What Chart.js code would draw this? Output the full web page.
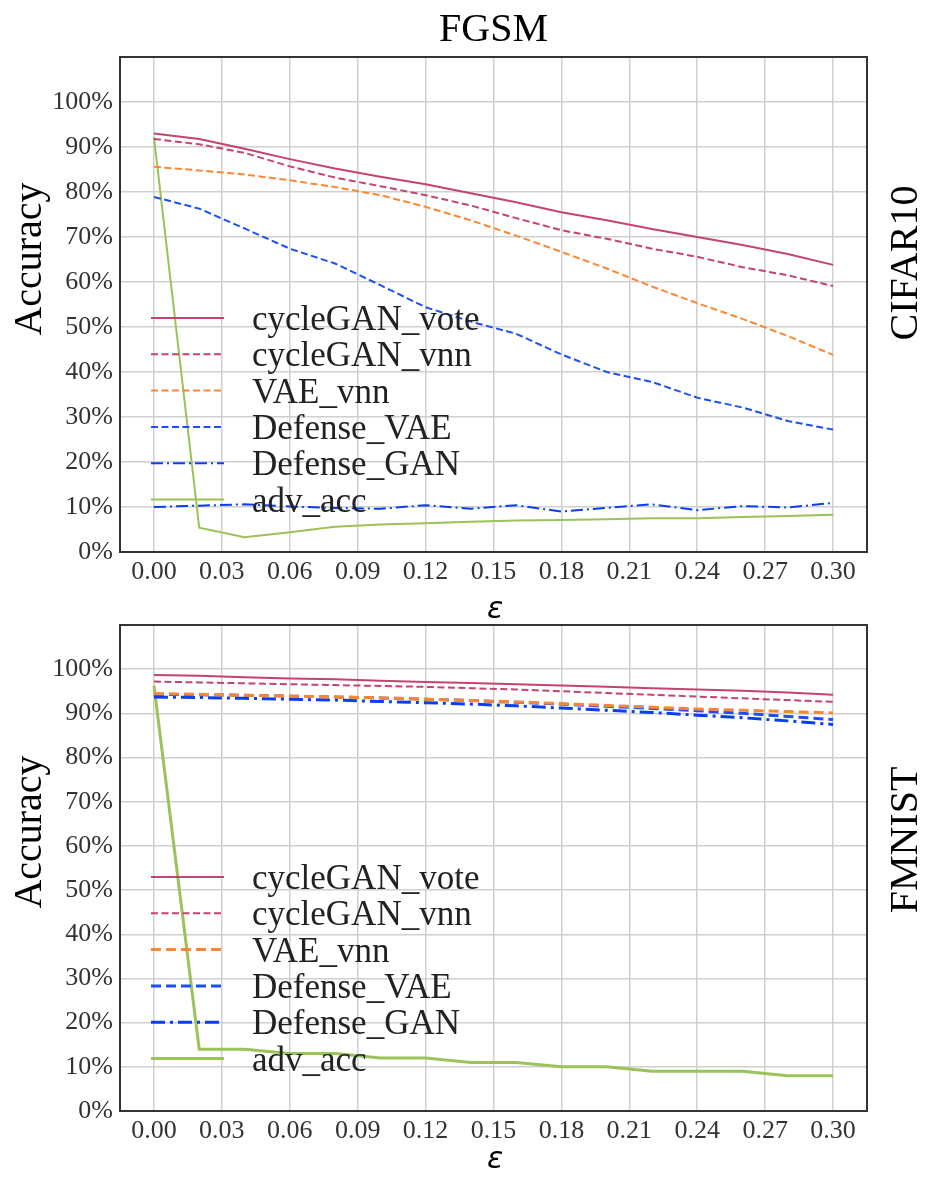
<!DOCTYPE html>
<html>
<head>
<meta charset="utf-8">
<script src="https://cdn.jsdelivr.net/npm/chart.js@4.4.1/dist/chart.umd.min.js"></script>
<style>
  html, body { margin: 0; padding: 0; background: #fff; }
  #wrap { position: relative; width: 926px; height: 1178px; }
  canvas { position: absolute; left: 0; }
  #topChart { top: 0; }
  #bottomChart { top: 589px; }
</style>
</head>
<body>
<div id="wrap">
  <canvas id="topChart" width="926" height="625"></canvas>
  <canvas id="bottomChart" width="926" height="589"></canvas>
</div>
<script>
/* FGSM accuracy vs epsilon, CIFAR10 (top) and FMNIST (bottom) */

const EPS = [0.00, 0.02, 0.04, 0.06, 0.08, 0.10, 0.12, 0.14, 0.16, 0.18, 0.20, 0.22, 0.24, 0.26, 0.28, 0.30];
const X_TICKS = [0.00, 0.03, 0.06, 0.09, 0.12, 0.15, 0.18, 0.21, 0.24, 0.27, 0.30];
const Y_TICKS = [0.0, 0.1, 0.2, 0.3, 0.4, 0.5, 0.6, 0.7, 0.8, 0.9, 1.0];
const SERIES = ['cycleGAN_vote', 'cycleGAN_vnn', 'VAE_vnn', 'Defense_VAE', 'Defense_GAN', 'adv_acc'];

// CIFAR10
const cifarVote   = [0.930, 0.918, 0.896, 0.873, 0.852, 0.834, 0.817, 0.797, 0.777, 0.755, 0.737, 0.718, 0.700, 0.682, 0.662, 0.638];
const cifarVnn    = [0.918, 0.906, 0.887, 0.857, 0.832, 0.813, 0.793, 0.770, 0.742, 0.715, 0.696, 0.674, 0.656, 0.633, 0.615, 0.591];
const cifarVaeVnn = [0.856, 0.848, 0.839, 0.826, 0.811, 0.793, 0.767, 0.737, 0.703, 0.667, 0.630, 0.590, 0.553, 0.518, 0.480, 0.438];
const cifarDefVae = [0.789, 0.763, 0.719, 0.674, 0.641, 0.593, 0.544, 0.512, 0.485, 0.439, 0.400, 0.378, 0.343, 0.321, 0.291, 0.272];
const cifarDefGan = [0.100, 0.103, 0.106, 0.101, 0.098, 0.096, 0.104, 0.096, 0.104, 0.090, 0.098, 0.106, 0.093, 0.102, 0.099, 0.109];
const cifarAdv    = [0.922, 0.054, 0.033, 0.044, 0.056, 0.061, 0.064, 0.067, 0.070, 0.071, 0.073, 0.075, 0.075, 0.078, 0.080, 0.083];

// FMNIST
const fmnistVote   = [0.987, 0.985, 0.982, 0.979, 0.977, 0.974, 0.971, 0.969, 0.966, 0.963, 0.960, 0.957, 0.954, 0.951, 0.947, 0.942];
const fmnistVnn    = [0.972, 0.970, 0.968, 0.966, 0.964, 0.962, 0.960, 0.957, 0.954, 0.950, 0.946, 0.942, 0.938, 0.934, 0.930, 0.926];
const fmnistVaeVnn = [0.945, 0.943, 0.941, 0.939, 0.937, 0.935, 0.932, 0.929, 0.926, 0.922, 0.918, 0.914, 0.910, 0.907, 0.904, 0.901];
const fmnistDefVae = [0.943, 0.942, 0.941, 0.939, 0.937, 0.935, 0.932, 0.929, 0.925, 0.921, 0.916, 0.911, 0.906, 0.900, 0.893, 0.886];
const fmnistDefGan = [0.937, 0.936, 0.934, 0.932, 0.930, 0.927, 0.924, 0.921, 0.917, 0.912, 0.907, 0.902, 0.896, 0.890, 0.883, 0.875];
const fmnistAdv    = [0.963, 0.140, 0.140, 0.130, 0.130, 0.120, 0.120, 0.110, 0.110, 0.100, 0.100, 0.090, 0.090, 0.090, 0.080, 0.080];

const CRIMSON = '#c4436f';
const ORANGE = '#fb8735';
const BLUE = '#1d4ff5';
const BLUE_DD = '#0b3ef2';
const GREEN = '#9cc25a';

const SERIF = '"Liberation Serif", "DejaVu Serif", serif';

// line style per series: [color, width, dash]
function styles(thick) {
    const w = thick ? 3 : 2;
    return [
        [CRIMSON, 2, []],
        [CRIMSON, 2, [7, 3.5]],
        [ORANGE, w, thick ? [10, 5] : [7, 3.5]],
        [BLUE, w, thick ? [10, 5] : [7, 3.5]],
        [BLUE_DD, w, thick ? [14, 5, 3, 5] : [12, 4, 2, 4]],
        [GREEN, w, []]
    ];
}

function makeDatasets(seriesValues, thick) {
    const st = styles(thick);
    return seriesValues.map((vals, i) => ({
        label: SERIES[i],
        data: vals.map((v, k) => ({ x: EPS[k], y: v })),
        borderColor: st[i][0],
        backgroundColor: st[i][0],
        borderWidth: st[i][1],
        borderDash: st[i][2],
        pointRadius: 0,
        tension: 0,
        fill: false
    }));
}

// frame, in-axes legend and the free text around each panel
const panelDecor = {
    id: 'panelDecor',
    afterDatasetsDraw(chart, args, opts) {
        const ctx = chart.ctx;
        const a = chart.chartArea;
        ctx.save();

        ctx.strokeStyle = '#333';
        ctx.lineWidth = 2;
        ctx.setLineDash([]);
        ctx.strokeRect(a.left, a.top, a.right - a.left, a.bottom - a.top);

        // legend, lower left inside the axes
        const ds = chart.data.datasets;
        const rowGap = 36.3;
        ctx.font = '35px ' + SERIF;
        ctx.textBaseline = 'middle';
        ctx.textAlign = 'left';
        ds.forEach((d, i) => {
            const y = a.bottom - 52.5 - (ds.length - 1 - i) * rowGap;
            ctx.strokeStyle = d.borderColor;
            ctx.lineWidth = d.borderWidth;
            ctx.setLineDash(d.borderDash);
            ctx.beginPath();
            ctx.moveTo(151, y);
            ctx.lineTo(224, y);
            ctx.stroke();
            ctx.fillStyle = '#222';
            ctx.fillText(d.label, 252, y + 3);
        });
        ctx.setLineDash([]);

        ctx.fillStyle = '#000';
        ctx.textAlign = 'center';
        if (opts.title) {
            ctx.font = '40px ' + SERIF;
            ctx.fillText(opts.title, (a.left + a.right) / 2, 30);
        }

        // y axis title
        ctx.save();
        ctx.translate(30, opts.yTitleY);
        ctx.rotate(-Math.PI / 2);
        ctx.font = '40px ' + SERIF;
        ctx.fillText('Accuracy', 0, 0);
        ctx.restore();

        // dataset name on the right
        ctx.save();
        ctx.translate(906, opts.rowY);
        ctx.rotate(-Math.PI / 2);
        ctx.font = '40px ' + SERIF;
        ctx.fillText(opts.rowLabel, 0, 0);
        ctx.restore();

        // x axis title
        ctx.font = 'italic 30px "DejaVu Sans", sans-serif';
        ctx.fillText('ε', 495, opts.xTitleY);

        ctx.restore();
    }
};

function drawPanel(canvasId, seriesValues, thick, cfg) {
    const ctx = document.getElementById(canvasId).getContext('2d');
    return new Chart(ctx, {
        type: 'line',
        data: { datasets: makeDatasets(seriesValues, thick) },
        plugins: [panelDecor],
        options: {
            responsive: false,
            animation: false,
            devicePixelRatio: 1,
            layout: { padding: { top: cfg.top, right: 59, left: 0, bottom: 0 } },
            plugins: {
                legend: { display: false },
                tooltip: { enabled: false },
                panelDecor: cfg
            },
            scales: {
                x: {
                    type: 'linear',
                    min: -0.015,
                    max: 0.315,
                    afterFit: (s) => { s.height = cfg.xAxisH; },
                    afterBuildTicks: (s) => { s.ticks = X_TICKS.map(v => ({ value: v })); },
                    border: { display: false },
                    grid: { color: '#d0d0d0', lineWidth: 1.5, drawTicks: false },
                    ticks: {
                        padding: 5,
                        color: '#333',
                        font: { family: SERIF, size: 26 },
                        maxRotation: 0,
                        autoSkip: false,
                        callback: (v) => v.toFixed(2)
                    }
                },
                y: {
                    min: 0,
                    max: 1.1,
                    afterFit: (s) => { s.width = 120; },
                    afterBuildTicks: (s) => { s.ticks = Y_TICKS.map(v => ({ value: v })); },
                    border: { display: false },
                    grid: { color: '#d0d0d0', lineWidth: 1.5, drawTicks: false },
                    ticks: {
                        padding: 7,
                        color: '#333',
                        font: { family: SERIF, size: 26 },
                        autoSkip: false,
                        callback: (v) => Math.round(v * 100) + '%'
                    }
                }
            }
        }
    });
}

drawPanel('topChart',
    [cifarVote, cifarVnn, cifarVaeVnn, cifarDefVae, cifarDefGan, cifarAdv], false,
    { top: 57, xAxisH: 73, title: 'FGSM', rowLabel: 'CIFAR10', rowY: 263, yTitleY: 259, xTitleY: 610 });

drawPanel('bottomChart',
    [fmnistVote, fmnistVnn, fmnistVaeVnn, fmnistDefVae, fmnistDefGan, fmnistAdv], true,
    { top: 36, xAxisH: 67, title: null, rowLabel: 'FMNIST', rowY: 251, yTitleY: 243, xTitleY: 571 });
</script>
</body>
</html>
